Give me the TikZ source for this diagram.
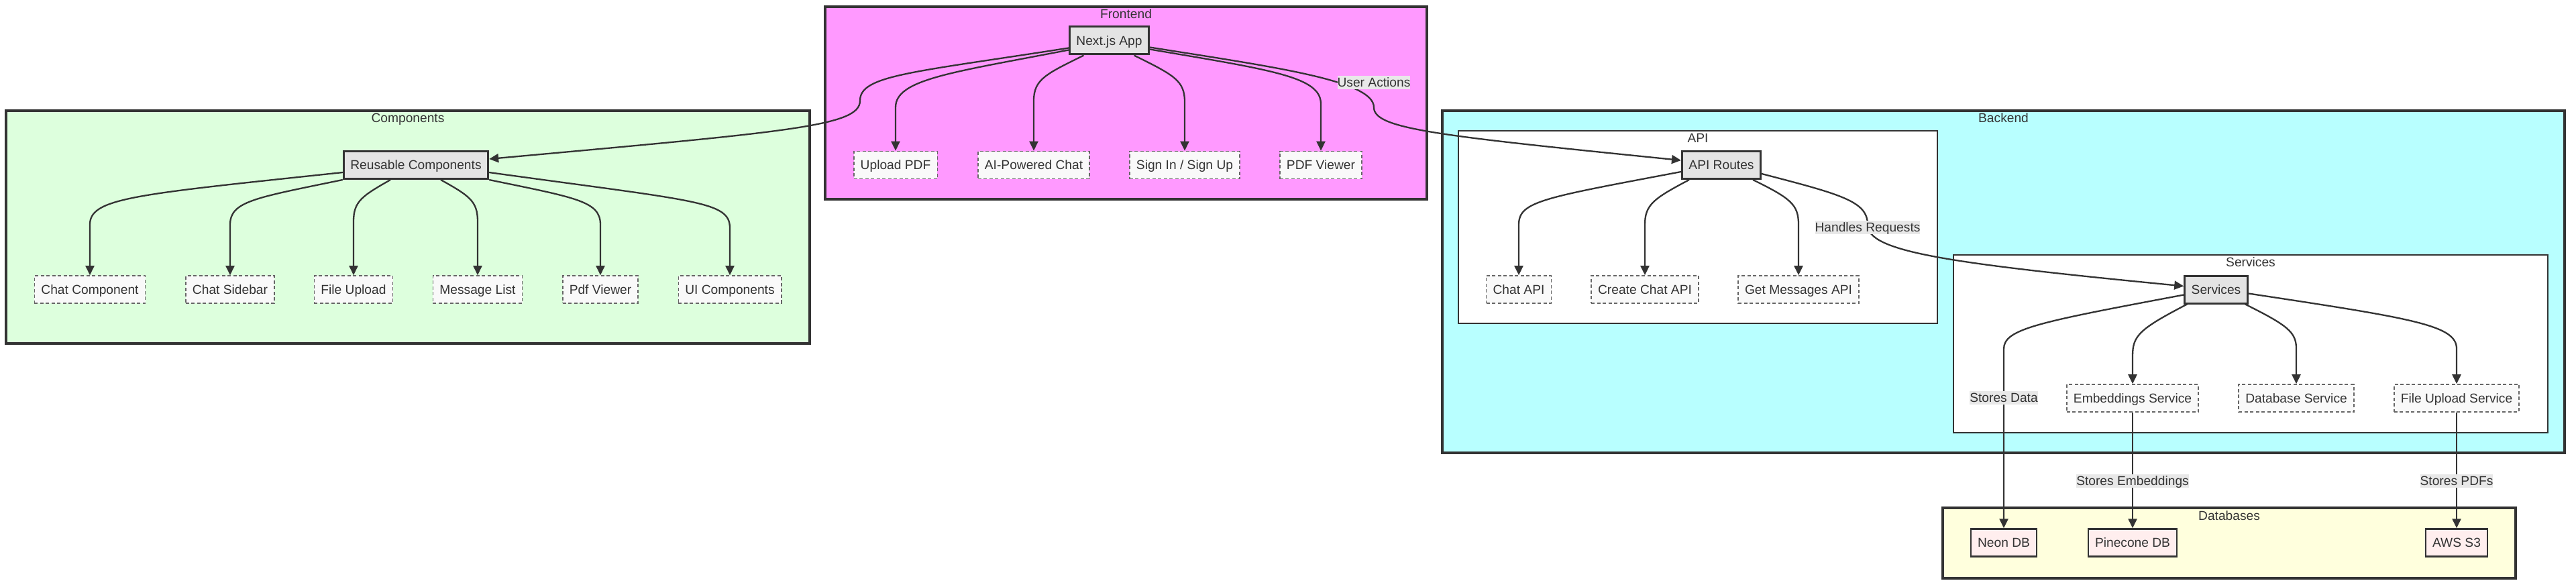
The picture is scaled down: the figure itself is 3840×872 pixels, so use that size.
\documentclass[tikz,border=0pt]{standalone}
\usepackage{fontspec}
\setmainfont{Liberation Sans}
\usepackage{tikz}
\usetikzlibrary{arrows.meta,positioning}
\definecolor{fepink}{HTML}{FF99FF}
\definecolor{compgreen}{HTML}{DDFFDD}
\definecolor{becyan}{HTML}{B8FFFF}
\definecolor{dbyellow}{HTML}{FFFFDD}
\definecolor{corefill}{HTML}{E4E4E4}
\definecolor{leaffill}{HTML}{F9F9F9}
\definecolor{dbfill}{HTML}{FFEEEE}
\definecolor{lblfill}{HTML}{E8E8E8}
\definecolor{ink}{HTML}{333333}
\definecolor{dashgray}{HTML}{666666}

\begin{document}
\begin{tikzpicture}[x=1pt, y=-1pt,
  every node/.style={font=\fontsize{19.2pt}{23pt}\selectfont, text=ink},
  grp/.style={draw=ink, line width=4.5pt, inner sep=0pt},
  subgrp/.style={draw=ink, line width=2pt, fill=white, inner sep=0pt},
  grptitle/.style={anchor=base, inner sep=0pt},
  core/.style={draw=ink, line width=3pt, fill=corefill, minimum height=41pt, inner xsep=10pt, text height=17.5pt, text depth=4pt},
  leaf/.style={draw=dashgray, line width=1.6pt, dash pattern=on 5pt off 3.5pt, fill=leaffill, minimum height=41pt, inner xsep=10pt, text height=17.5pt, text depth=4pt},
  store/.style={draw=ink, line width=2.5pt, fill=dbfill, minimum height=41pt, inner xsep=10pt, text height=17.5pt, text depth=4pt},
  elabel/.style={fill=lblfill, inner sep=0pt, text height=16.9pt, text depth=3.2pt},
  flow/.style={draw=ink, line width=2.3pt, -{Triangle[length=14pt,width=13pt]}}
]
\useasboundingbox (0,0) rectangle (3840,872);

\node[grp, fill=compgreen, minimum width=1198pt, minimum height=347pt] (components) at (608,338.5) {};
\node[grp, fill=fepink, minimum width=897pt, minimum height=287pt] (frontend) at (1678.5,153.5) {};
\node[grp, fill=becyan, minimum width=1673pt, minimum height=510pt] (backend) at (2986.5,420) {};
\node[subgrp, minimum width=714pt, minimum height=287pt] (apigrp) at (2531,338.5) {};
\node[subgrp, minimum width=886pt, minimum height=265pt] (svcgrp) at (3355,512.5) {};
\node[grp, fill=dbyellow, minimum width=854pt, minimum height=105pt] (databases) at (3323,809.5) {};

\node[grptitle] (feTitle) at (1678.5,27.5) {Frontend};
\node[grptitle] (compTitle) at (608,182.5) {Components};
\node[grptitle] (beTitle) at (2986.5,182.5) {Backend};
\node[grptitle] (apiTitle) at (2531,212.5) {API};
\node[grptitle] (svcTitle) at (3355,397.5) {Services};
\node[grptitle] (dbTitle) at (3323,775) {Databases};

\node[core] (njs) at (1653.5,60.5) {Next.js App};
\node[leaf] (up) at (1335,246) {Upload PDF};
\node[leaf] (aic) at (1541,246) {AI-Powered Chat};
\node[leaf] (sis) at (1766,246) {Sign In / Sign Up};
\node[leaf] (pv) at (1969,246) {PDF Viewer};

\node[core] (rc) at (620,246) {Reusable Components};
\node[leaf] (cc) at (134,431.5) {Chat Component};
\node[leaf] (cs) at (343,431.5) {Chat Sidebar};
\node[leaf] (fu) at (527,431.5) {File Upload};
\node[leaf] (ml) at (712,431.5) {Message List};
\node[leaf] (pvc) at (895,431.5) {Pdf Viewer};
\node[leaf] (uic) at (1088,431.5) {UI Components};

\node[core] (api) at (2566,246) {API Routes};
\node[leaf] (capi) at (2264,431.5) {Chat API};
\node[leaf] (ccapi) at (2452,431.5) {Create Chat API};
\node[leaf] (gmapi) at (2681,431.5) {Get Messages API};

\node[core] (svc) at (3303.5,431.5) {Services};
\node[leaf] (emb) at (3179,593.5) {Embeddings Service};
\node[leaf] (dbs) at (3423,593.5) {Database Service};
\node[leaf] (fus) at (3662,593.5) {File Upload Service};

\node[store] (neon) at (2987,809) {Neon DB};
\node[store] (pine) at (3179,809) {Pinecone DB};
\node[store] (aws) at (3662,809) {AWS S3};

\draw[flow] ([yshift=-11pt]njs.west) .. controls (1360,108) and (1282,112) .. (1282,150) .. controls (1282,188) and (1180,196) .. ([yshift=9pt]rc.east);
\draw[flow] ([yshift=-14pt]njs.west) .. controls (1420,108) and (1335,118) .. (1335,160) -- (up.north);
\draw[flow] ([xshift=-38pt]njs.south) .. controls (1560,110) and (1541,118) .. (1541,150) -- (aic.north);
\draw[flow] ([xshift=37pt]njs.south) .. controls (1750,112) and (1766,120) .. (1766,152) -- (sis.north);
\draw[flow] ([yshift=-13pt]njs.east) .. controls (1900,105) and (1969,115) .. (1969,155) -- (pv.north);
\draw[flow] ([yshift=-10pt]njs.east) .. controls (1900,100) and (2048,120) .. (2048,160) .. controls (2048,192) and (2140,202) .. ([yshift=7pt]api.west);

\draw[flow] ([yshift=-11pt]rc.west) .. controls (200,290) and (134,295) .. (134,335) -- (cc.north);
\draw[flow] (rc.south west) .. controls (380,295) and (343,300) .. (343,335) -- (cs.north);
\draw[flow] ([xshift=-38pt]rc.south) .. controls (540,292) and (527,300) .. (527,330) -- (fu.north);
\draw[flow] ([xshift=37pt]rc.south) .. controls (700,292) and (712,300) .. (712,330) -- (ml.north);
\draw[flow] (rc.south east) .. controls (860,295) and (895,300) .. (895,335) -- (pvc.north);
\draw[flow] ([yshift=-11pt]rc.east) .. controls (1040,300) and (1088,300) .. (1088,340) -- (uic.north);

\draw[flow] ([yshift=-10pt]api.west) .. controls (2300,295) and (2264,300) .. (2264,335) -- (capi.north);
\draw[flow] ([xshift=-48pt]api.south) .. controls (2465,296) and (2452,305) .. (2452,335) -- (ccapi.north);
\draw[flow] ([xshift=47pt]api.south) .. controls (2670,296) and (2681,305) .. (2681,335) -- (gmapi.north);
\draw[flow] ([yshift=-13pt]api.east) .. controls (2745,290) and (2784,300) .. (2784,335) .. controls (2784,375) and (2900,392) .. ([yshift=5pt]svc.west);

\draw[flow] ([yshift=-8pt]svc.west) .. controls (3040,480) and (2987,490) .. (2987,520) -- (neon.north);
\draw[flow] ([xshift=5pt]svc.south west) .. controls (3190,490) and (3179,500) .. (3179,530) -- (emb.north);
\draw[flow] ([xshift=-5pt]svc.south east) .. controls (3410,485) and (3423,495) .. (3423,520) -- (dbs.north);
\draw[flow] ([yshift=-6pt]svc.east) .. controls (3600,475) and (3662,485) .. (3662,520) -- (fus.north);
\draw[flow] (emb) -- (pine);
\draw[flow] (fus) -- (aws);

\node[elabel] (ua) at (2048,123) {User Actions};
\node[elabel] (hr) at (2784,339) {Handles Requests};
\node[elabel] (sd) at (2987,593) {Stores Data};
\node[elabel] (se) at (3179,717) {Stores Embeddings};
\node[elabel] (spdf) at (3662,717) {Stores PDFs};
\end{tikzpicture}
\end{document}
